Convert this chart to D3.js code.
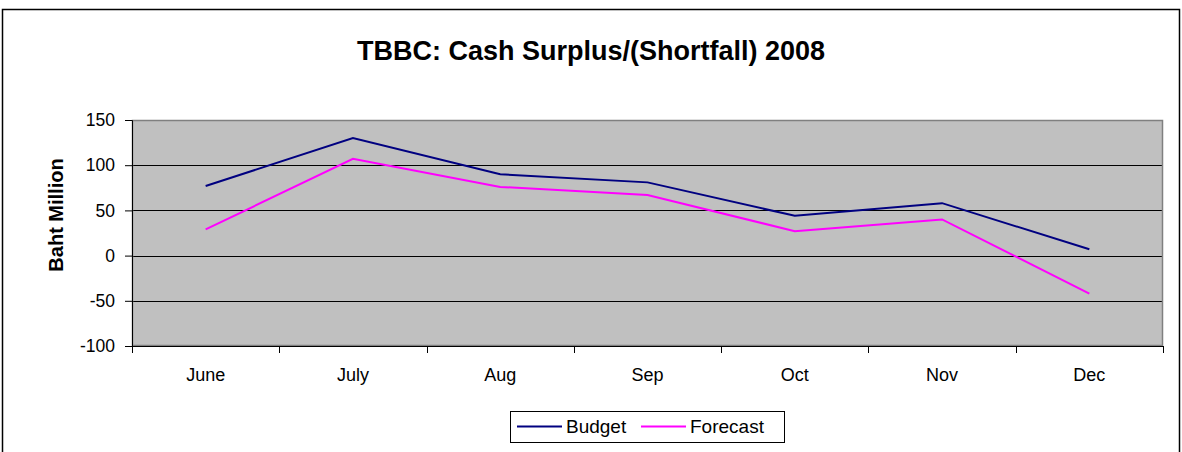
<!DOCTYPE html>
<html>
<head>
<meta charset="utf-8">
<script src="https://cdn.jsdelivr.net/npm/d3@7"></script>
<style>
  body { margin: 0; background: #fff; }
  text { font-family: Arial, "Liberation Sans", sans-serif; }
</style>
</head>
<body>
<div id="chart"></div>
<script>
var svgWidth = 1182;
var svgHeight = 452;

// chart data
var months = ["June", "July", "Aug", "Sep", "Oct", "Nov", "Dec"];
var budget = [77, 130, 90, 81, 44, 58, 7];
var forecast = [29, 107, 76, 67, 27, 40, -42];
var yTicks = [-100, -50, 0, 50, 100, 150];

var margin = { top: 120, right: 19, bottom: 106, left: 132 };
var width = svgWidth - margin.left - margin.right;
var height = svgHeight - margin.top - margin.bottom;

var svg = d3.select("#chart")
  .append("svg")
  .attr("width", svgWidth)
  .attr("height", svgHeight);

// outer chart border
svg.append("rect")
  .attr("x", 2.5).attr("y", 9.5)
  .attr("width", 1177).attr("height", 450)
  .attr("fill", "#fff")
  .attr("stroke", "#000")
  .attr("stroke-width", 1.5);

svg.append("text")
  .attr("x", 591).attr("y", 60)
  .attr("text-anchor", "middle")
  .attr("font-size", "27px")
  .attr("font-weight", "bold")
  .text("TBBC: Cash Surplus/(Shortfall) 2008");

var chartGroup = svg.append("g")
  .attr("transform", `translate(${margin.left}, ${margin.top})`);

var x = d3.scaleBand().domain(months).range([0, width]);
var y = d3.scaleLinear().domain([-100, 150]).range([height, 0]);

chartGroup.append("rect")
  .attr("width", width).attr("height", height)
  .attr("fill", "#c0c0c0");

// gridlines
chartGroup.selectAll(".grid")
  .data(yTicks.filter(d => d > -100 && d < 150))
  .enter().append("line")
  .attr("x1", 0).attr("x2", width)
  .attr("y1", d => Math.round(y(d)) + 0.5)
  .attr("y2", d => Math.round(y(d)) + 0.5)
  .attr("stroke", "#000");

// plot border
chartGroup.append("rect")
  .attr("x", 0.5).attr("y", 0.5)
  .attr("width", width - 1).attr("height", height - 1)
  .attr("fill", "none")
  .attr("stroke", "#808080")
  .attr("stroke-width", 1.5);

// y axis
var leftAxis = d3.axisLeft(y).tickValues(yTicks).tickSize(7).tickPadding(10)
  .tickFormat(d => String(d));
var gy = chartGroup.append("g").call(leftAxis);
gy.select(".domain").attr("stroke", "#000");
gy.selectAll("text").attr("font-size", "17.5px").attr("fill", "#000")
  .attr("font-family", "Arial, 'Liberation Sans', sans-serif");

// x axis with ticks at category boundaries
var bottomAxis = d3.axisBottom(x).tickSize(0);
var gx = chartGroup.append("g")
  .attr("transform", `translate(0, ${height})`)
  .call(bottomAxis);
gx.select(".domain").attr("stroke", "#000");
gx.selectAll("text")
  .attr("y", 35).attr("dy", null)
  .attr("font-size", "18px").attr("fill", "#000")
  .attr("font-family", "Arial, 'Liberation Sans', sans-serif");
gx.selectAll(".bound")
  .data(months.map(m => x(m)).concat([width]))
  .enter().append("line")
  .attr("x1", d => Math.round(d) + 0.5).attr("x2", d => Math.round(d) + 0.5)
  .attr("y1", 0).attr("y2", 7)
  .attr("stroke", "#000");

var line = d3.line()
  .x((d, i) => x(months[i]) + x.bandwidth() / 2)
  .y(d => y(d));

chartGroup.append("path")
  .datum(budget)
  .attr("d", line)
  .attr("fill", "none")
  .attr("stroke", "#000080")
  .attr("stroke-width", 2);

chartGroup.append("path")
  .datum(forecast)
  .attr("d", line)
  .attr("fill", "none")
  .attr("stroke", "#ff00ff")
  .attr("stroke-width", 2);

// y axis title
svg.append("text")
  .attr("transform", "translate(63, 215) rotate(-90)")
  .attr("text-anchor", "middle")
  .attr("font-size", "20px")
  .attr("font-weight", "bold")
  .text("Baht Million");

// legend
var legend = svg.append("g");
legend.append("rect")
  .attr("x", 510.5).attr("y", 411.5)
  .attr("width", 274).attr("height", 31)
  .attr("fill", "#fff").attr("stroke", "#000");
var items = [
  { name: "Budget", color: "#000080", x: 517 },
  { name: "Forecast", color: "#ff00ff", x: 641 }
];
items.forEach(function(it) {
  legend.append("line")
    .attr("x1", it.x).attr("x2", it.x + 45)
    .attr("y1", 426.5).attr("y2", 426.5)
    .attr("stroke", it.color).attr("stroke-width", 2);
  legend.append("text")
    .attr("x", it.x + 49).attr("y", 433)
    .attr("font-size", "19px")
    .text(it.name);
});
</script>
</body>
</html>
